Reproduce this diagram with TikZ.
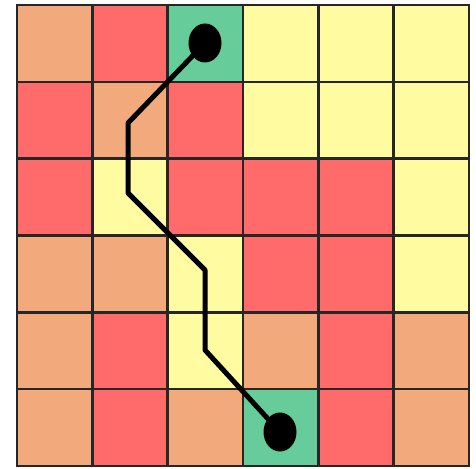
\documentclass[tikz,border=0pt]{standalone}
\usetikzlibrary{shapes.geometric}
\begin{document}
\begin{tikzpicture}[x=1pt,y=-1pt,
  gridline/.style={line width=2.5pt,black!85},
  route/.style={line width=5pt,black,line join=round},
  dot/.style={ellipse,fill=black,inner sep=0pt,minimum width=33pt,minimum height=39pt}]
\definecolor{co}{HTML}{F2AA7C}
\definecolor{cr}{HTML}{FF6B6B}
\definecolor{cy}{HTML}{FFFBA1}
\definecolor{cg}{HTML}{66CC9A}
\useasboundingbox (0,0) rectangle (476,468);
\fill[white] (0,0) rectangle (476,468);
\foreach \row [count=\j from 0] in {{co,cr,cg,cy,cy,cy},{cr,co,cr,cy,cy,cy},{cr,cy,cr,cr,cr,cy},{co,co,cy,cr,cr,cy},{co,cr,cy,co,cr,co},{co,cr,co,cg,cr,co}} {
  \foreach \c [count=\i from 0] in \row {
    \fill[\c] (17+75.33*\i,5+76.83*\j) rectangle ++(75.33,76.83);
  }
}
\foreach \i in {0,...,6} {
  \draw[gridline] (17+75.33*\i,4) -- (17+75.33*\i,467);
  \draw[gridline] (16,5+76.83*\i) -- (470,5+76.83*\i);
}
\coordinate (s) at (205,43);
\coordinate (b1) at (128,123);
\coordinate (b2) at (128,193);
\coordinate (b3) at (205,270);
\coordinate (b4) at (205,350);
\coordinate (e) at (280,432);
\draw[route] (s) -- (b1) -- (b2) -- (b3) -- (b4) -- (e);
\node[dot] (sdot) at (s) {};
\node[dot] (edot) at (e) {};
\end{tikzpicture}
\end{document}
